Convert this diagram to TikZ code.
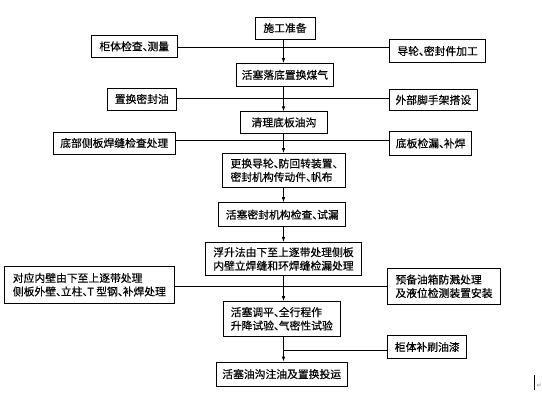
\documentclass[tikz,border=0pt]{standalone}
\usepackage{fontspec}
\newfontfamily\cjk[BoldFont={Noto Sans CJK SC},BoldFeatures={FakeBold=0.35}]{Noto Sans CJK SC}
\newfontfamily\dejavu{DejaVu Sans}
\usetikzlibrary{arrows.meta}
\newcommand\dun{\makebox[0.45em][l]{、}}
\tikzset{
  box/.style={draw, line width=0.8pt, inner sep=0pt, font=\cjk\bfseries\fontsize{10.8}{13.5}\selectfont, align=left},
  flow/.style={line width=0.8pt,-{Latex[length=5pt,width=3.6pt]}},
  joinline/.style={line width=0.8pt}
}
\begin{document}
\begin{tikzpicture}[x=1pt,y=-1pt]
\useasboundingbox[fill=white] (0,0) rectangle (542,402);
\coordinate (ax) at (283.5,0);
% centre column
\node[box, minimum width=60pt, minimum height=22pt] (a) at (285,28) {施工准备};
\node[box, minimum width=97.5pt, minimum height=23pt] (b) at (284.9,74.9) {活塞落底置换煤气};
\node[box, minimum width=87.5pt, minimum height=21.5pt] (c) at (284,122.4) {清理底板油沟};
\node[box, minimum width=123.4pt, minimum height=33.5pt] (d) at (284,170.3) {更换导轮\dun 防回转装置\dun\\密封机构传动件\dun 帆布};
\node[box, minimum width=127pt, minimum height=24.2pt] (e) at (282.3,214.7) {活塞密封机构检查\dun 试漏};
\node[box, minimum width=155.5pt, minimum height=33.3pt] (f) at (283.5,259) {浮升法由下至上逐带处理侧板\\内壁立焊缝和环焊缝检漏处理};
\node[box, minimum width=117.5pt, minimum height=34.5pt] (g) at (281.8,318.8) {活塞调平\dun 全行程作\\升降试验\dun 气密性试验};
\node[box, minimum width=131.4pt, minimum height=24.2pt] (h) at (281.7,374.1) {活塞油沟注油及置换投运};
% left column
\node[box, minimum width=85.4pt, minimum height=21.4pt] (l1) at (134.3,46.3) {柜体检查\dun 测量};
\node[box, minimum width=69pt, minimum height=21.8pt] (l2) at (141.8,99) {置换密封油};
\node[box, minimum width=121.4pt, minimum height=22pt] (l3) at (114.3,143) {底部侧板焊缝检查处理};
\node[box, minimum width=170.5pt, minimum height=37pt] (l4) at (89.4,284.7) {对应内壁由下至上逐带处理\\侧板外壁\dun 立柱\dun T 型钢\dun 补焊处理};
% right column
\node[box, minimum width=96pt, minimum height=22.4pt] (r1) at (437.6,51) {导轮\dun 密封件加工};
\node[box, minimum width=87.4pt, minimum height=21.4pt] (r2) at (433.3,99.9) {外部脚手架搭设};
\node[box, minimum width=82.2pt, minimum height=23.2pt] (r3) at (430.7,143.3) {底板检漏\dun 补焊};
\node[box, minimum width=112.4pt, minimum height=35.5pt] (r4) at (444,286.3) {预备油箱防溅处理\\及液位检测装置安装};
\node[box, minimum width=79pt, minimum height=23pt] (r5) at (427.3,347) {柜体补刷油漆};
% joining points
\coordinate (j1) at (283.5,47.4);
\coordinate (j2) at (283.5,98.5);
\coordinate (j3) at (283.5,140.4);
\coordinate (j4) at (283.5,285.9);
\coordinate (j5) at (283.5,349.9);
% vertical flow
\draw[flow] (a.south -| ax) -- (b.north -| ax);
\draw[flow] (b.south -| ax) -- (c.north -| ax);
\draw[flow] (c.south -| ax) -- (d.north -| ax);
\draw[flow] (d.south -| ax) -- (e.north -| ax);
\draw[flow] (e.south -| ax) -- (f.north -| ax);
\draw[flow] (f.south -| ax) -- (g.north -| ax);
\draw[flow] (g.south -| ax) -- (h.north -| ax);
% horizontal joins
\draw[joinline] (l1.east |- j1) -- (r1.west |- j1);
\draw[joinline] (l2.east |- j2) -- (r2.west |- j2);
\draw[joinline] (l3.east |- j3) -- (r3.west |- j3);
\draw[joinline] (l4.east |- j4) -- (r4.west |- j4);
\draw[joinline] (r5.west |- j5) -- (j5);
% paragraph mark
\coordinate (pm1) at (534.5,375);
\coordinate (pm2) at (534.5,390);
\draw[line width=1.4pt] (pm1) -- (pm2);
\node[inner sep=0pt, text=gray, font=\dejavu\fontsize{6}{6}\selectfont] (pm) at (539.5,386) {↵};
\end{tikzpicture}
\end{document}
